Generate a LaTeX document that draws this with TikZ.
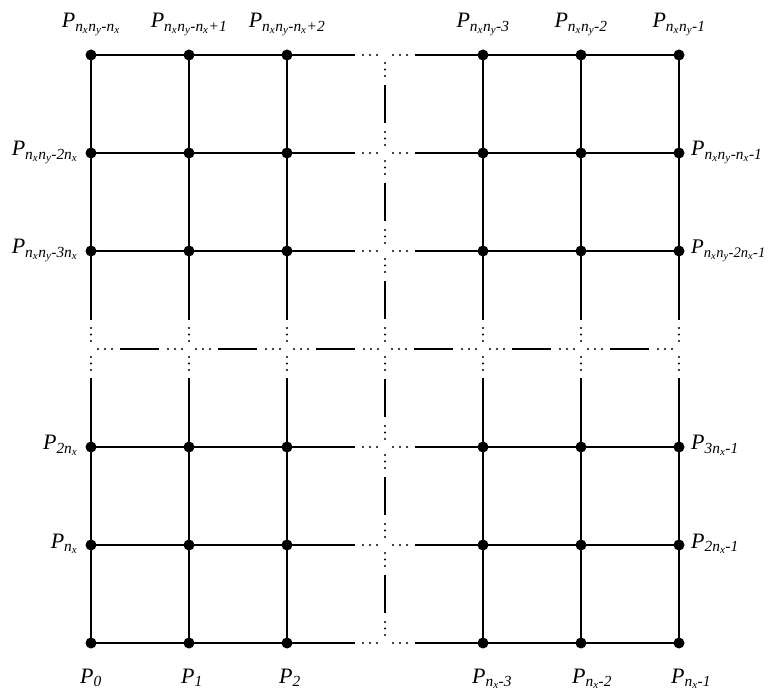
\documentclass[tikz,border=0pt]{standalone}
\usepackage{amsmath}
\usepackage{fontspec}
\setmainfont{Liberation Serif}
\usetikzlibrary{calc}
\newcommand\ti[1]{\textit{#1}}
\newcommand\Nx{\ti{n}_{\ti{x}}}
\newcommand\Ny{\ti{n}_{\ti{y}}}
\begin{document}
\begin{tikzpicture}[x=1pt,y=1pt,
  gridline/.style={line width=2.4pt},
  vertex/.style={circle,fill=black,inner sep=0pt,minimum size=11pt},
  lab/.style={inner sep=0pt,font=\fontsize{22}{26}\selectfont}]
\def\dr{1.1pt}
\useasboundingbox (0,0) rectangle (769,-692);
\foreach \i in {0,...,6} \foreach \r in {0,...,6}
  \coordinate (g-\i-\r) at ({91+98*\i},{-55-98*\r});
% horizontal lines
\foreach \r in {0,1,2,4,5,6} {
  \draw[gridline] (g-0-\r) -- (g-1-\r) -- (g-2-\r) -- ($(g-2-\r)+(68,0)$);
  \foreach \k in {0,7,14} {
    \fill ($(g-3-\r)+(-22+\k,0)$) circle (\dr);
    \fill ($(g-3-\r)+(8+\k,0)$) circle (\dr);
  }
  \draw[gridline] ($(g-3-\r)+(30,0)$) -- (g-4-\r) -- (g-5-\r) -- (g-6-\r);
}
% vertical lines
\foreach \c in {0,1,2,4,5,6} {
  \draw[gridline] (g-\c-0) -- (g-\c-1) -- (g-\c-2) -- ($(g-\c-2)+(0,-69)$);
  \foreach \k in {0,6.5,13} {
    \fill ($(g-\c-3)+(0,21-\k)$) circle (\dr);
    \fill ($(g-\c-3)+(0,-8-\k)$) circle (\dr);
  }
  \draw[gridline] ($(g-\c-3)+(0,-29)$) -- (g-\c-4) -- (g-\c-5) -- (g-\c-6);
}
% middle column
\foreach \r [evaluate=\r as \s using int(\r+1)] in {0,...,5} {
  \foreach \k in {0,6.5,13} {
    \fill ($(g-3-\r)+(0,-8-\k)$) circle (\dr);
    \fill ($(g-3-\s)+(0,21-\k)$) circle (\dr);
  }
  \draw[gridline] ($(g-3-\r)+(0,-30)$) -- ($(g-3-\r)+(0,-68)$);
}
% middle row
\foreach \i [evaluate=\i as \j using int(\i+1)] in {0,...,5} {
  \foreach \k in {0,7,14} {
    \fill ($(g-\i-3)+(7+\k,0)$) circle (\dr);
    \fill ($(g-\j-3)+(-21+\k,0)$) circle (\dr);
  }
  \draw[gridline] ($(g-\i-3)+(29,0)$) -- ($(g-\i-3)+(68,0)$);
}
% vertices
\foreach \i in {0,1,2,4,5,6} \foreach \r in {0,1,2,4,5,6}
  \node[vertex] (v-\i-\r) at (g-\i-\r) {};
% top labels
\node[lab,anchor=base] (t0) at ($(g-0-0)+(0,27)$) {$\ti{P}_{\Nx\Ny\ti{-}\Nx}$};
\node[lab,anchor=base] (t1) at ($(g-1-0)+(0,27)$) {$\ti{P}_{\Nx\Ny\ti{-}\Nx\ti{+1}}$};
\node[lab,anchor=base] (t2) at ($(g-2-0)+(0,27)$) {$\ti{P}_{\Nx\Ny\ti{-}\Nx\ti{+2}}$};
\node[lab,anchor=base] (t4) at ($(g-4-0)+(0,27)$) {$\ti{P}_{\Nx\Ny\ti{-3}}$};
\node[lab,anchor=base] (t5) at ($(g-5-0)+(0,27)$) {$\ti{P}_{\Nx\Ny\ti{-2}}$};
\node[lab,anchor=base] (t6) at ($(g-6-0)+(0,27)$) {$\ti{P}_{\Nx\Ny\ti{-1}}$};
% left labels
\node[lab,anchor=base east] (l1) at ($(g-0-1)+(-13,-3)$) {$\ti{P}_{\Nx\Ny\ti{-2}\Nx}$};
\node[lab,anchor=base east] (l2) at ($(g-0-2)+(-13,-3)$) {$\ti{P}_{\Nx\Ny\ti{-3}\Nx}$};
\node[lab,anchor=base east] (l4) at ($(g-0-4)+(-13,-3)$) {$\ti{P}_{\ti{2}\Nx}$};
\node[lab,anchor=base east] (l5) at ($(g-0-5)+(-13,-3)$) {$\ti{P}_{\Nx}$};
% right labels
\node[lab,anchor=base west] (r1) at ($(g-6-1)+(12,-3)$) {$\ti{P}_{\Nx\Ny\ti{-}\Nx\ti{-1}}$};
\node[lab,anchor=base west,font=\fontsize{20.8}{25}\selectfont] (r2) at ($(g-6-2)+(12,-3)$) {$\ti{P}_{\Nx\Ny\ti{-2}\Nx\ti{-1}}$};
\node[lab,anchor=base west] (r4) at ($(g-6-4)+(12,-3)$) {$\ti{P}_{\ti{3}\Nx\ti{-1}}$};
\node[lab,anchor=base west] (r5) at ($(g-6-5)+(12,-3)$) {$\ti{P}_{\ti{2}\Nx\ti{-1}}$};
% bottom labels
\node[lab,anchor=base west] (b0) at ($(g-0-6)+(-11,-40)$) {$\ti{P}_{\ti{0}}$};
\node[lab,anchor=base west] (b1) at ($(g-1-6)+(-8,-40)$) {$\ti{P}_{\ti{1}}$};
\node[lab,anchor=base west] (b2) at ($(g-2-6)+(-8,-40)$) {$\ti{P}_{\ti{2}}$};
\node[lab,anchor=base west] (b4) at ($(g-4-6)+(-11,-40)$) {$\ti{P}_{\ti{n}_{\ti{x}}\ti{-3}}$};
\node[lab,anchor=base west] (b5) at ($(g-5-6)+(-9,-40)$) {$\ti{P}_{\ti{n}_{\ti{x}}\ti{-2}}$};
\node[lab,anchor=base west] (b6) at ($(g-6-6)+(-8,-40)$) {$\ti{P}_{\ti{n}_{\ti{x}}\ti{-1}}$};
\end{tikzpicture}
\end{document}
